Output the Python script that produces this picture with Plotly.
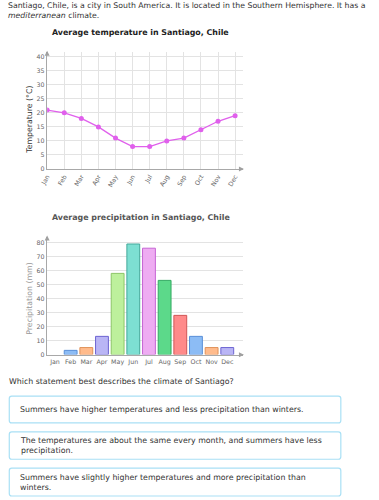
import plotly.graph_objects as go

W, H = 379, 500
months = ["Jan", "Feb", "Mar", "Apr", "May", "Jun", "Jul", "Aug", "Sep", "Oct", "Nov", "Dec"]
temperature = [21, 20, 18, 15, 11, 8, 8, 10, 11, 14, 17, 19]
precipitation = [0, 3, 5, 13, 58, 79, 76, 53, 28, 13, 5, 5]
bar_fill = ["#ff8a8a", "#8cbcf5", "#ffbb8c", "#b9b5f5", "#bdf09c", "#7ddfd2", "#eeacf2", "#5cd98a",
            "#ff8a8a", "#8cbcf5", "#ffbb8c", "#b9b5f5"]
bar_line = ["#d05656", "#5a8fd8", "#e0925a", "#6d64d2", "#8cc566", "#44a89a", "#c665d4", "#33aa62",
            "#d05656", "#5a8fd8", "#e0925a", "#6d64d2"]

FONT = "DejaVu Sans"


def xp(x):
    return x / W


def yp(y):
    return 1 - y / H


fig = go.Figure()
fig.add_trace(go.Scatter(
    x=months, y=temperature, mode="lines+markers",
    line=dict(color="#e060ec", width=1.3),
    marker=dict(color="#e060ec", size=5),
    xaxis="x", yaxis="y", showlegend=False, hoverinfo="skip"))
fig.add_trace(go.Bar(
    x=months, y=precipitation, width=0.82,
    marker=dict(color=bar_fill,
                line=dict(color=bar_line, width=[1 if v > 0 else 0 for v in precipitation])),
    xaxis="x2", yaxis="y2", showlegend=False, hoverinfo="skip"))

axis_common = dict(showline=True, linecolor="#a8a8a8", linewidth=1.5, gridcolor="#e3e3e3",
                   gridwidth=1, zeroline=False, ticks="",
                   tickfont=dict(family=FONT, size=6.3, color="#666"))

fig.update_layout(
    width=W, height=H, margin=dict(l=0, r=0, t=0, b=0),
    paper_bgcolor="white", plot_bgcolor="white",
    bargap=0.18,
    xaxis=dict(domain=[xp(40), xp(240)], type="category", range=[0, 11.458],
               tickangle=-60, anchor="y", showgrid=True, **axis_common),
    yaxis=dict(domain=[yp(170), yp(52)], range=[0, 41.8], dtick=5, anchor="x",
               showgrid=True, **axis_common),
    xaxis2=dict(domain=[xp(40), xp(240)], type="category", range=[-0.5, 12.0],
                anchor="y2", showgrid=False, **axis_common),
    yaxis2=dict(domain=[yp(356.7), yp(238)], range=[0, 84.3], dtick=10, anchor="x2",
                showgrid=True, **axis_common),
)

ann = []


def text(x, y, s, size=7.85, color="#333", xanchor="left", bold=False, angle=0):
    if bold:
        s = "<b>" + s + "</b>"
    ann.append(dict(x=xp(x), y=yp(y), xref="paper", yref="paper", text=s, showarrow=False,
                    xanchor=xanchor, yanchor="middle", align="left", textangle=angle,
                    borderpad=0, borderwidth=0,
                    font=dict(family=FONT, size=size, color=color)))


text(0, 5.5, "Santiago, Chile, is a city in South America. It is located in the Southern Hemisphere. It has a",
     size=7.75)
text(0, 15.5, "<i>mediterranean</i> climate.", size=7.75)
text(135.5, 33, "Average temperature in Santiago, Chile", size=7.9, color="#222", xanchor="center", bold=True)
text(135.5, 219, "Average precipitation in Santiago, Chile", size=7.9, color="#555", xanchor="center", bold=True)
text(22, 121, "Temperature (°C)", size=7.8, color="#333", xanchor="center", angle=-90)
text(22, 300, "Precipitation (mm)", size=7.8, color="#999", xanchor="center", angle=-90)
text(1, 384, "Which statement best describes the climate of Santiago?")
text(12, 412, "Summers have higher temperatures and less precipitation than winters.")
text(12, 448, "The temperatures are about the same every month, and summers have less<br>precipitation.")
text(12, 485, "Summers have slightly higher temperatures and more precipitation than<br>winters.")

# axis arrows
for (x, y, ax, ay) in [(40, 51, 0, 6), (241, 170, -6, 0), (40, 237, 0, 6), (241, 357, -6, 0)]:
    ann.append(dict(x=xp(x), y=yp(y), xref="paper", yref="paper", text="", showarrow=True,
                    ax=ax, ay=ay, arrowhead=2, arrowsize=1, arrowwidth=1, arrowcolor="#a0a0a0"))

fig.update_layout(annotations=ann)


def rounded(x0, y0, x1, y1, r=2.5):
    X = lambda v: f"{xp(v):.5f}"
    Y = lambda v: f"{yp(v):.5f}"
    return (f"M {X(x0 + r)},{Y(y0)} L {X(x1 - r)},{Y(y0)} Q {X(x1)},{Y(y0)} {X(x1)},{Y(y0 + r)} "
            f"L {X(x1)},{Y(y1 - r)} Q {X(x1)},{Y(y1)} {X(x1 - r)},{Y(y1)} "
            f"L {X(x0 + r)},{Y(y1)} Q {X(x0)},{Y(y1)} {X(x0)},{Y(y1 - r)} "
            f"L {X(x0)},{Y(y0 + r)} Q {X(x0)},{Y(y0)} {X(x0 + r)},{Y(y0)} Z")


shapes = []
for (y0, y1) in [(398.5, 425.5), (434.5, 462), (471, 499)]:
    shapes.append(dict(type="path", xref="paper", yref="paper", path=rounded(1.3, y0, 340, y1),
                       line=dict(color="#a9e0f5", width=1.2), fillcolor="rgba(0,0,0,0)"))
fig.update_layout(shapes=shapes)

post = ("document.documentElement.style.margin='0';document.documentElement.style.padding='0';"
        "document.body.style.margin='0';document.body.style.padding='0';"
        "document.body.style.overflow='hidden';"
        "var d=document.getElementById('{plot_id}');d.style.position='absolute';"
        "d.style.left='0px';d.style.top='0px';")

fig.write_html("out.html", config={"displayModeBar": False, "staticPlot": True}, post_script=post)
